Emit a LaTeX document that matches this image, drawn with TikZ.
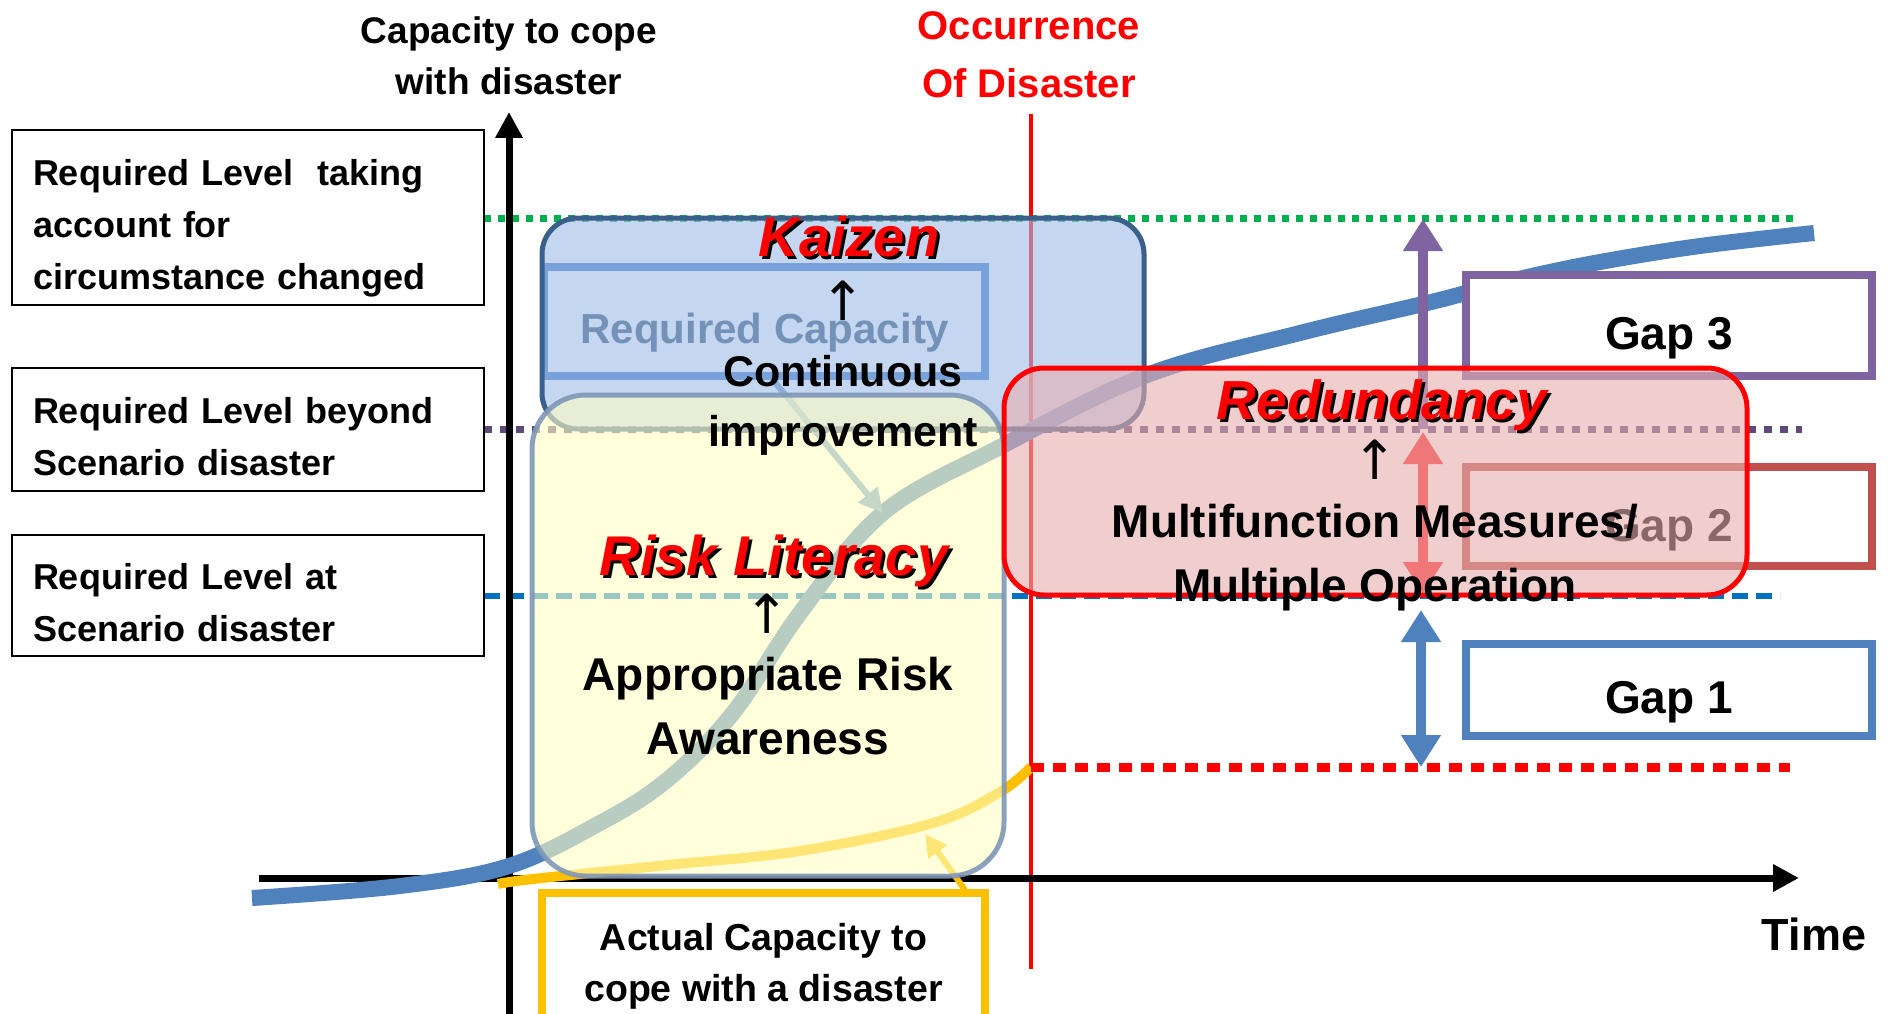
\documentclass[tikz,border=0pt]{standalone}
\usepackage{fontspec}
\setmainfont{Liberation Sans}
\newfontfamily\symfont{DejaVu Sans}
\usetikzlibrary{arrows.meta}
\definecolor{cgreen}{HTML}{00B050}
\definecolor{cpurpdot}{HTML}{5F497A}
\definecolor{cbluedash}{HTML}{0070C0}
\definecolor{ccurve}{HTML}{4F81BD}
\definecolor{cyellow}{HTML}{FFC000}
\definecolor{cgap1}{HTML}{4F81BD}
\definecolor{cgap2}{HTML}{C0504D}
\definecolor{cgap3}{HTML}{8064A2}
\definecolor{kzfill}{HTML}{9FBDE6}
\definecolor{kzborder}{HTML}{3A5F8B}
\definecolor{kzinner}{HTML}{3C78C8}
\definecolor{rctext}{HTML}{2F4A6E}
\definecolor{ylfill}{HTML}{FFFFC4}
\definecolor{ylborder}{HTML}{7F97B8}
\definecolor{rdfill}{HTML}{E6AEAE}
\definecolor{lbarrowc}{HTML}{6E9BCB}
\newcommand\shadowed[1]{\makebox[0pt][l]{\hspace{3pt}\raisebox{-3pt}{\color{black}#1}}#1}
\tikzset{
  lbl/.style={inner sep=0pt, font=\bfseries},
  levelbox/.style={draw=black, line width=2pt, fill=white, minimum width=472pt, text width=430pt, align=left, inner sep=0pt, font=\bfseries\fontsize{36}{52}\selectfont},
  gapbox/.style={draw=#1, line width=8pt, fill=white, minimum width=406pt, inner sep=0pt, font=\bfseries\fontsize{46}{50}\selectfont},
  axisline/.style={line width=7pt, draw=black, -{Triangle[width=26pt,length=26pt]}},
  bigtitle/.style={inner sep=0pt, text=red, font=\bfseries\itshape\fontsize{56}{60}\selectfont},
  bodytext/.style={inner sep=0pt, align=center, font=\bfseries\fontsize{46}{64}\selectfont},
  uparrow/.style={inner sep=0pt, font=\symfont\fontsize{54}{56}\selectfont},
}
\begin{document}
\begin{tikzpicture}[x=1pt,y=-1pt]
\useasboundingbox (0,0) rectangle (1888,1014);
% reference level lines
\draw[cgreen, line width=7pt, dash pattern=on 7pt off 7pt] (484,218) -- (1797,218);
\draw[cpurpdot, line width=7pt, dash pattern=on 8pt off 8pt] (484,429) -- (1802,429);
\draw[cbluedash, line width=6pt, dash pattern=on 16pt off 8pt] (484,596) -- (1780,596);
% occurrence line
\coordinate (occtop) at (1031,114);
\coordinate (occbot) at (1031,969);
\draw[red, line width=4pt] (occtop) -- (occbot);
% axes
\coordinate (yaxbot) at (509,1014);
\coordinate (yaxtop) at (509,112);
\coordinate (xaxl) at (259,878);
\coordinate (xaxr) at (1799,878);
\draw[axisline] (yaxbot) -- (yaxtop);
\draw[axisline] (xaxl) -- (xaxr);
% required capacity S-curve
\draw[ccurve, line width=16pt] plot[smooth, tension=0.6] coordinates {(252,898) (400,886) (509,866) (600,823) (667,780) (733,713) (800,613) (883,513) (1000,447) (1147,375) (1300,333) (1423,304) (1466,293) (1523,278) (1600,262) (1700,246) (1814,233)};
% actual capacity curve
\draw[cyellow, line width=10pt] plot[smooth, tension=0.6] coordinates {(498,884) (533,879) (667,865) (800,851) (933,823) (1000,792) (1031,767)};
\coordinate (actend) at (1031,767);
\coordinate (reddotend) at (1790,767);
\draw[red, line width=9pt, dash pattern=on 13pt off 9pt] (actend) -- (reddotend);
% gap boxes
\node[gapbox=cgap3, minimum height=101pt] (gap3) at (1669,325.5) {\rule{0pt}{58pt}Gap 3};
\node[gapbox=cgap2, minimum height=99pt] (gap2) at (1669,516.5) {\rule{0pt}{60pt}Gap 2};
\node[gapbox=cgap1, minimum height=92pt] (gap1) at (1669,690) {\rule{0pt}{56pt}Gap 1};
% gap arrows
\coordinate (g3a) at (1423,429);
\coordinate (g3b) at (1423,219);
\coordinate (g2a) at (1423,432);
\coordinate (g2b) at (1423,594);
\coordinate (g1a) at (1421,610);
\coordinate (g1b) at (1421,767);
\draw[cgap3, line width=10pt, -{Triangle[width=38pt,length=32pt]}] (g3a) -- (g3b);
\draw[red!85, line width=10pt, {Triangle[width=38pt,length=32pt]}-{Triangle[width=38pt,length=32pt]}] (g2a) -- (g2b);
\draw[cgap1, line width=10pt, {Triangle[width=38pt,length=32pt]}-{Triangle[width=38pt,length=32pt]}] (g1a) -- (g1b);
% required capacity inner box
\node[draw=kzinner, line width=8pt, minimum width=441pt, minimum height=109pt, inner sep=0pt] (reqcapbox) at (764.5,321.5) {};
\node[lbl, text=rctext, font=\bfseries\fontsize{42}{44}\selectfont] (reqcap) at (765,333) {Required Capacity};
\coordinate (rcfoot) at (773,380);
\coordinate (scurvept) at (883,513);
\draw[lbarrowc, line width=6pt, -{Triangle[width=24pt,length=24pt]}] (rcfoot) -- (scurvept);
% actual capacity box
\node[draw=cyellow, line width=8pt, fill=white, minimum width=443pt, minimum height=137pt, inner sep=0pt, align=center, font=\bfseries\fontsize{37.5}{51}\selectfont] (actbox) at (763.5,961.5) {\rule{0pt}{36pt}Actual Capacity to\\cope with a disaster};
\coordinate (actarrs) at (965,890);
\coordinate (actarre) at (925,834);
\draw[cyellow, line width=6pt, -{Triangle[width=22pt,length=22pt]}] (actarrs) -- (actarre);
% translucent boxes
\node[draw=kzborder, line width=5pt, fill=kzfill, fill opacity=0.62, rounded corners=36pt, minimum width=602pt, minimum height=211pt, inner sep=0pt] (kaizenbox) at (843,323.5) {};
\node[draw=ylborder, draw opacity=0.9, line width=5pt, fill=ylfill, fill opacity=0.6, rounded corners=54pt, minimum width=472pt, minimum height=481pt, inner sep=0pt] (riskbox) at (768,635.5) {};
\node[draw=red, line width=5pt, fill=rdfill, fill opacity=0.6, rounded corners=40pt, minimum width=743pt, minimum height=227pt, inner sep=0pt] (redbox) at (1375.5,481.5) {};
% texts in boxes
\node[bigtitle] (kaizen) at (849,238) {\shadowed{Kaizen}};
\node[uparrow] (kzup) at (843,301) {↑};
\node[bodytext, font=\bfseries\fontsize{43}{60}\selectfont] (contimp) at (843,405) {Continuous\\improvement};
\node[bigtitle] (risklit) at (774,563) {\shadowed{Risk Literacy}};
\node[uparrow] (rlup) at (767,614) {↑};
\node[bodytext] (aprisk) at (768,706) {Appropriate Risk\\Awareness};
\node[bigtitle, font=\bfseries\itshape\fontsize{55}{60}\selectfont] (redund) at (1382,407) {\shadowed{Redundancy}};
\node[uparrow] (rdup) at (1375,460) {↑};
\node[bodytext] (multi) at (1375,558) {Multifunction Measures/\\Multiple Operation};
% level boxes
\node[levelbox, minimum height=175pt] (lv1) at (248,217.5) {\rule{0pt}{48pt}Required Level\ \ taking\\account for\\circumstance changed};
\node[levelbox, minimum height=123pt] (lv2) at (248,429.5) {\rule{0pt}{40pt}Required Level beyond\\Scenario disaster};
\node[levelbox, minimum height=121pt] (lv3) at (248,595.5) {\rule{0pt}{40pt}Required Level at\\Scenario disaster};
% axis titles
\node[lbl, align=center, font=\bfseries\fontsize{37}{51}\selectfont] (ylab) at (509,56) {Capacity to cope\\with disaster};
\node[lbl, align=center, text=red, font=\bfseries\fontsize{40}{58}\selectfont] (occ) at (1029,55) {Occurrence\\Of Disaster};
\node[lbl, font=\bfseries\fontsize{45}{50}\selectfont] (time) at (1814,934) {Time};
\end{tikzpicture}
\end{document}
